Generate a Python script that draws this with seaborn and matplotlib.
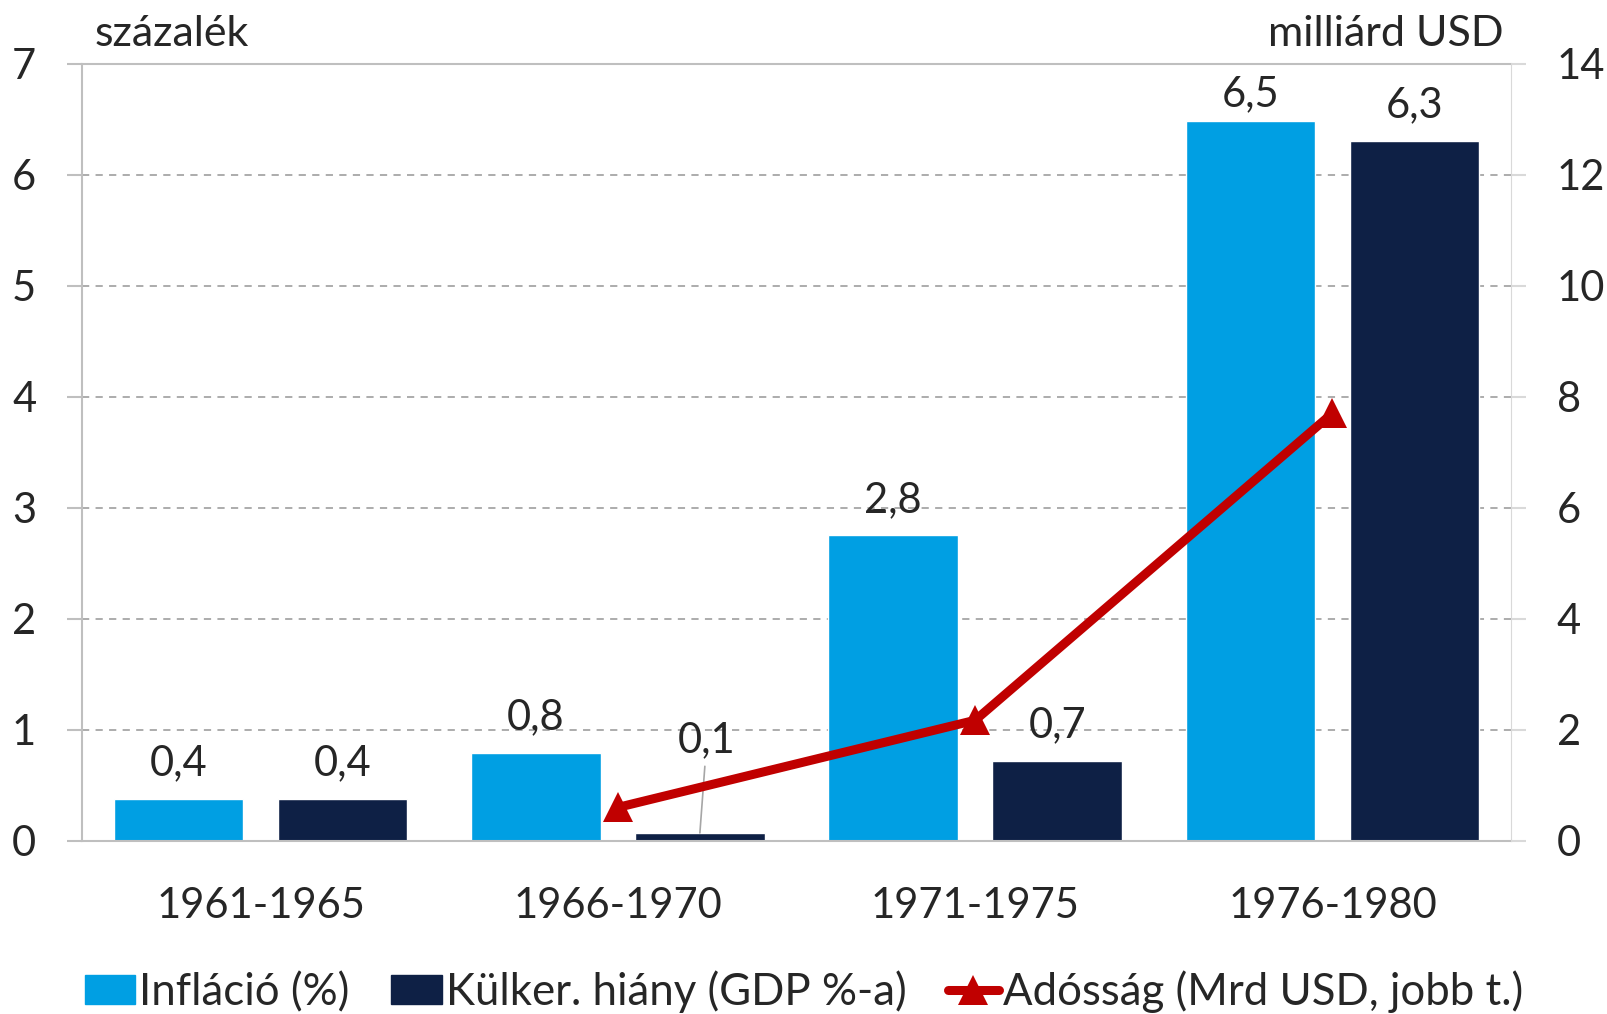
import numpy as np
import pandas as pd
import matplotlib.pyplot as plt
import seaborn as sns
from matplotlib.patches import Patch
from matplotlib.lines import Line2D
from matplotlib.ticker import FixedLocator

# data
periods = ['1961-1965', '1966-1970', '1971-1975', '1976-1980']
inflacio = [0.38, 0.79, 2.75, 6.48]
kulker = [0.38, 0.07, 0.72, 6.30]
adossag = [np.nan, 0.6, 2.17, 7.7]
series_names = ['Infláció (%)', 'Külker. hiány (GDP %-a)', 'Adósság (Mrd USD, jobb t.)']
colors = ['#009FE3', '#0E2045', '#C00000']

sns.set_style('white')
plt.rcParams['font.family'] = ['Lato', 'DejaVu Sans']
FS = 30

bars = pd.DataFrame({
    'period': periods * 2,
    'series': [series_names[0]] * 4 + [series_names[1]] * 4,
    'value': inflacio + kulker,
})
line = pd.DataFrame({'pos': np.arange(len(periods)), 'value': adossag}).dropna()

fig = plt.figure(figsize=(16.08, 10.14), dpi=100)
ax = fig.add_axes([0.051, 0.1709, 0.8887, 0.7664])

sns.barplot(data=bars, x='period', y='value', hue='series', order=periods,
            hue_order=series_names[:2], palette=colors[:2], saturation=1,
            width=0.918, gap=0.211, ax=ax, legend=False)

ax.set_ylim(0, 7)
ax.set_xlim(-0.5, len(periods) - 0.5)
ax.set_yticks(range(0, 8))
ax.set_xlabel('')
ax.set_ylabel('')

# grid lines
for y in range(1, 7):
    ax.axhline(y, color='#A6A6A6', lw=1.3, ls=(0, (4, 3.5)), zorder=0)

for side in ['left', 'bottom', 'top']:
    ax.spines[side].set_color('#BFBFBF')
    ax.spines[side].set_linewidth(1.5)
ax.spines['right'].set_color('#D9D9D9')

ax.tick_params(axis='y', labelsize=FS, length=11, width=1.5, color='#BFBFBF', pad=22)
ax.tick_params(axis='x', which='major', labelsize=FS, length=0, pad=33)
ax.xaxis.set_minor_locator(FixedLocator(np.arange(-0.5, len(periods))))
ax.tick_params(axis='x', which='minor', length=11, width=1.5, color='#D0D0D0')

# data labels
fmt = lambda v: f'{v:.1f}'.replace('.', ',')
for cont, vals in zip(ax.containers, [inflacio, kulker]):
    labels = [fmt(v) if v >= 0.2 else '' for v in vals]
    anns = ax.bar_label(cont, labels=labels, padding=12, fontsize=FS)
    for ann, v in zip(anns, vals):
        # label near the top is kept inside the plot area
        if v > 6.4:
            ann.xyann = (0, 6)
    for patch, v in zip(cont, vals):
        if v < 0.2:
            ax.annotate(fmt(v), xy=(patch.get_x() + patch.get_width() / 2, patch.get_height()),
                        xytext=(5, 67), textcoords='offset points', ha='center', va='center',
                        fontsize=FS,
                        arrowprops=dict(arrowstyle='-', color='#A6A6A6', lw=1.2,
                                        shrinkA=3, shrinkB=0))

# debt line on the right axis
ax2 = ax.twinx()
sns.lineplot(data=line, x='pos', y='value', color=colors[2], lw=6.5, marker='^',
             markersize=22, markeredgewidth=0, ax=ax2, legend=False)
ax2.set_ylim(0, 14)
ax2.set_yticks(range(0, 15, 2))
ax2.set_ylabel('')
ax2.set_xlabel('')
for s in ax2.spines.values():
    s.set_visible(False)
ax2.tick_params(axis='y', labelsize=FS, length=11, width=1.5, color='#D9D9D9', pad=22)

ax.text(0.009, 1.022, 'százalék', transform=ax.transAxes, fontsize=FS + 1, va='baseline', ha='left')
ax.text(0.9945, 1.022, 'milliárd USD', transform=ax.transAxes, fontsize=FS + 1, va='baseline', ha='right')

handles = [Patch(color=colors[0]), Patch(color=colors[1]),
           Line2D([], [], color=colors[2], lw=6.5, marker='^', markersize=22, markeredgewidth=0)]
fig.legend(handles, series_names, loc='center', bbox_to_anchor=(0.5, 0.022), ncol=3,
           frameon=False, fontsize=31.5, handlelength=1.15, handleheight=0.65,
           handletextpad=0.1, columnspacing=0.95)

fig.savefig('out.png', dpi=100)
